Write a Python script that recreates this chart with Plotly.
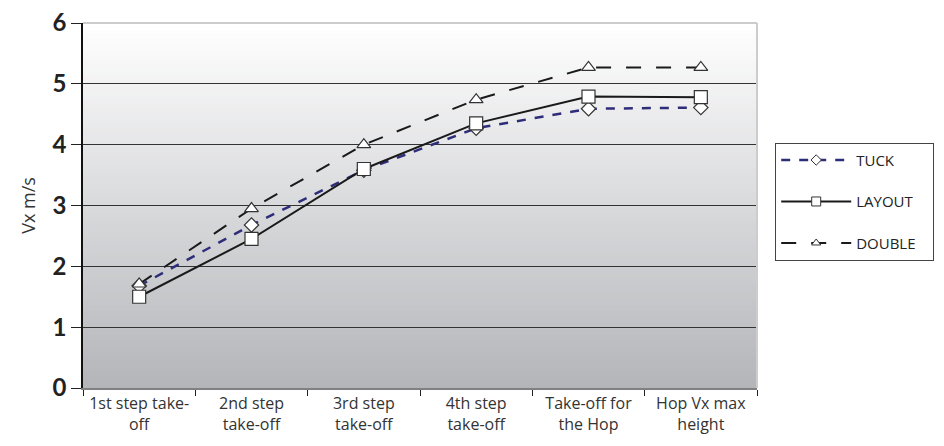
import plotly.graph_objects as go

categories = ["1st step take-<br>off", "2nd step<br>take-off", "3rd step<br>take-off",
              "4th step<br>take-off", "Take-off for<br>the Hop", "Hop Vx max<br>height"]
tuck = [1.68, 2.68, 3.58, 4.27, 4.59, 4.61]
layout_v = [1.50, 2.45, 3.60, 4.35, 4.79, 4.78]
double = [1.71, 2.95, 4.00, 4.74, 5.27, 5.27]
y_ticks = [0, 1, 2, 3, 4, 5, 6]
series_names = ["TUCK", "LAYOUT", "DOUBLE"]

FONT = "Open Sans, sans-serif"
BFONT = "Lato, sans-serif"
PAD = "\u00a0" * 3

styles = [
    dict(line=dict(color="#2e2d7a", width=2.5, dash="dash"), symbol="diamond", size=11, lsize=8),
    dict(line=dict(color="#1a1a1a", width=2), symbol="square", size=13, lsize=9),
    dict(line=dict(color="#1a1a1a", width=2, dash="longdash"), symbol="triangle-up", size=12, lsize=8),
]
data = [tuck, layout_v, double]

fig = go.Figure()
for name, vals, st in zip(series_names, data, styles):
    fig.add_trace(go.Scatter(x=categories, y=vals, name=name, mode="lines+markers",
                             line=st["line"],
                             marker=dict(symbol=st["symbol"], size=st["size"], color="white",
                                         line=dict(color="#333", width=1.2)),
                             showlegend=False))
for i, (name, st) in enumerate(zip(series_names, styles)):
    fig.add_trace(go.Scatter(x=[None], y=[None], name=name + PAD, mode="lines+markers",
                             line=st["line"],
                             marker=dict(symbol=st["symbol"], size=st["lsize"], color="white",
                                         line=dict(color="#333", width=1)),
                             legendgroup="g%d" % i, showlegend=True))

# gradient background bands
n = 90
shapes = []
top = (255, 255, 255)
bot = (179, 181, 185)
for i in range(n):
    t = (i + 0.5) / n
    c = tuple(round(top[k] + (bot[k] - top[k]) * t) for k in range(3))
    shapes.append(dict(type="rect", xref="x domain", yref="y domain",
                       x0=0, x1=1, y0=1 - (i + 1) / n, y1=1 - i / n + 0.002,
                       fillcolor="rgb(%d,%d,%d)" % c, line=dict(width=0), layer="below"))
shapes.append(dict(type="line", xref="x domain", yref="y domain", x0=0, x1=1, y0=1, y1=1,
                   line=dict(color="#cccccc", width=2), layer="above"))
shapes.append(dict(type="line", xref="x domain", yref="y domain", x0=1, x1=1, y0=0, y1=1,
                   line=dict(color="#cccccc", width=2), layer="above"))

fig.update_layout(
    width=936, height=438,
    margin=dict(l=75, r=187, t=15, b=58, autoexpand=False),
    paper_bgcolor="white", plot_bgcolor="white",
    font=dict(family=FONT, color="#333"),
    shapes=shapes,
    showlegend=True,
    legend=dict(x=1.027, y=0.672, xanchor="left", yanchor="top",
                bordercolor="#444", borderwidth=1, bgcolor="white",
                font=dict(size=15, color="#222", family=FONT),
                traceorder="grouped", tracegroupgap=19, itemwidth=70),
)
fig.update_xaxes(
    type="category", tickson="boundaries", ticks="outside", ticklen=6,
    tickcolor="#222", showgrid=False, showline=True, linecolor="#808080", linewidth=2,
    tickfont=dict(size=16, color="#333", family=FONT), range=[-0.5, 5.5],
    automargin=False, ticklabeloverflow="allow",
)
fig.update_yaxes(
    range=[0, 6], tickvals=y_ticks, ticks="outside", ticklen=10, tickcolor="#222",
    showgrid=True, gridcolor="#333", gridwidth=1, zeroline=False,
    showline=True, linecolor="#111", linewidth=1.5,
    tickfont=dict(size=24, color="#222", family=BFONT, weight="bold"),
    title=dict(text="Vx m/s", font=dict(size=18, color="#333", family=FONT), standoff=12),
    automargin=False, ticklabeloverflow="allow",
)

fig.write_html("out.html")
